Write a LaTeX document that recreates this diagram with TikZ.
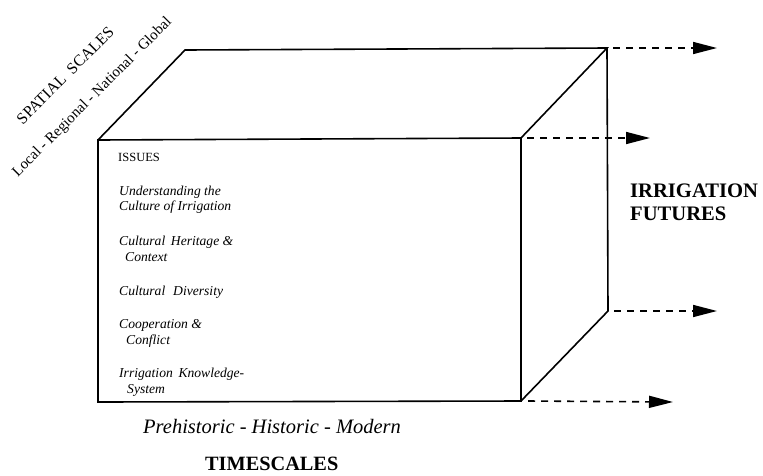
\documentclass[tikz,border=0pt]{standalone}
\usepackage{fontspec}
\setmainfont{Liberation Serif}
\usetikzlibrary{arrows.meta}
\begin{document}
\begin{tikzpicture}[x=1pt,y=-1pt,
  edge/.style={line width=1.6pt, line join=miter},
  fut/.style={line width=1.6pt, dash pattern=on 7pt off 6pt, -{Triangle[length=24pt,width=12pt]}},
  issue/.style={anchor=base west, inner sep=0pt, font=\fontsize{13.6}{15}\selectfont\itshape},
  hdr/.style={anchor=base west, inner sep=0pt, font=\fontsize{12.5}{14}\selectfont},
  bigbold/.style={anchor=base west, inner sep=0pt, font=\fontsize{20.6}{24}\selectfont\bfseries},
  spat/.style={anchor=base, inner sep=0pt, rotate=45, font=\fontsize{16}{19}\selectfont},
  spatsmall/.style={anchor=base, inner sep=0pt, rotate=45, font=\fontsize{15}{18}\selectfont}]
\useasboundingbox (0,0) rectangle (763,475);
% corners
\coordinate (FTL) at (98,140);
\coordinate (FTR) at (521,138);
\coordinate (FBR) at (521,401);
\coordinate (FBL) at (98,402);
\coordinate (BTL) at (185,50);
\coordinate (BTR) at (607,48);
\coordinate (BBR) at (608,311);
% box
\draw[edge] (FTL) -- (FTR) -- (FBR) -- (FBL) -- cycle;
\draw[edge] (FTL) -- (BTL) -- (BTR) -- (FTR);
\draw[edge] (BTR) -- (BBR) -- (FBR);
% arrow tips
\coordinate (A1) at (717,48);
\coordinate (A2) at (650,138);
\coordinate (A3) at (717,311);
\coordinate (A4) at (673,402);
\draw[fut] ([xshift=6pt]BTR) -- (A1);
\draw[fut] ([xshift=6pt]FTR) -- (A2);
\draw[fut] ([xshift=6pt]BBR) -- (A3);
\draw[fut] ([xshift=7pt]FBR) -- (A4);
% issues
\node[hdr] (iss) at (118,161) {ISSUES};
\node[issue] (i1a) at (119,195) {Understanding the};
\node[issue] (i1b) at (119,210) {Culture of Irrigation};
\node[issue] (i2a) at (119,245) {Cultural\, Heritage \&};
\node[issue] (i2b) at (125,261) {Context};
\node[issue] (i3a) at (119,295) {Cultural\,\, Diversity};
\node[issue] (i4a) at (119,328) {Cooperation \&};
\node[issue] (i4b) at (126,344) {Conflict};
\node[issue] (i5a) at (119,377) {Irrigation\, Knowledge-};
\node[issue] (i5b) at (127,393) {System};
% futures
\node[bigbold] (f1) at (630,197) {IRRIGATION};
\node[bigbold] (f2) at (630,220) {FUTURES};
% timescales
\node[anchor=base west, inner sep=0pt, font=\fontsize{20.5}{24}\selectfont\itshape] (pre) at (143,433) {Prehistoric - Historic - Modern};
\node[anchor=base west, inner sep=0pt, font=\fontsize{20.3}{24}\selectfont\bfseries] (ts) at (205,470) {TIMESCALES};
% spatial
\node[spat] (sp) at (69,79) {SPATIAL\ \ SCALES};
\node[spatsmall] (lo) at (95,100) {Local - Regional - National - Global};
\end{tikzpicture}
\end{document}
